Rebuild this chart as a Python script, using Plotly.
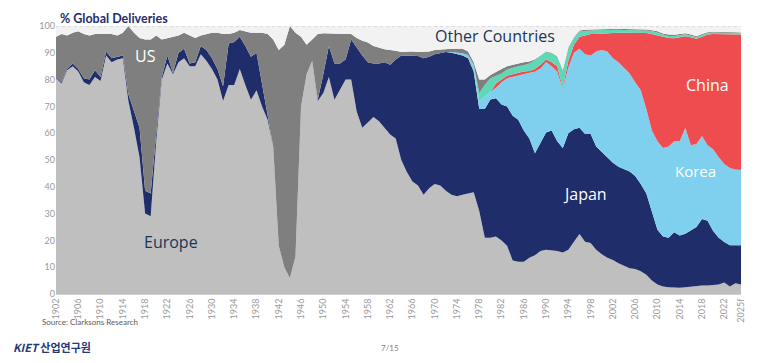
import plotly.graph_objects as go

years = list(range(1902, 2026))

europe = [80.5, 78.5, 83.5, 85, 83, 79, 78, 81, 79.5, 89,
          86.5, 87.5, 88, 72, 62, 51, 30, 29, 57, 80,
          86, 82, 86.5, 88, 85, 85, 89.5, 87, 84, 80,
          72, 78, 78, 84, 78, 72.5, 76, 70, 65, 55,
          18, 10, 6, 14, 70, 82, 87, 72, 75, 81,
          72.5, 76, 80, 80, 68, 62, 64, 66, 64.5, 62,
          59.5, 58, 50, 45.5, 42, 40.5, 37, 39.5, 41, 40.5,
          38.5, 37, 36.5, 37, 37.5, 38, 31, 21, 21, 21.5,
          20, 18, 12.5, 12, 12, 13.5, 14.5, 16, 16.5, 16.3,
          16, 15.5, 16.5, 19.5, 22.4, 19.5, 19, 16.5, 14.8, 13.5,
          12.7, 11.5, 10.5, 9.6, 9.3, 8.5, 7.2, 5, 3.5, 2.8,
          2.5, 2.4, 2.3, 2.5, 2.8, 3, 3.2, 3.2, 3.3, 3.5,
          4.3, 2.8, 4, 3.5]

japan = [0.5, 0.5, 0.5, 1, 1, 1.5, 2, 2.5, 1.5, 1.5,
         1.5, 1, 1, 2.5, 6, 11, 8.5, 8.5, 3, 1,
         3, 0.5, 3.5, 3.5, 1, 1.5, 3, 4, 4, 4,
         5.5, 15.5, 16, 12, 14.5, 16, 14, 8, 1.5, 0,
         0, 0, 0, 0, 0, 0, 0, 0.5, 7, 11.5,
         13.5, 10, 7.5, 15, 24, 27, 22.5, 20, 21.5, 24.5,
         26, 29.5, 39, 43.5, 47, 48.3, 51, 49, 48.5, 49.5,
         51.8, 53, 53, 52, 50.5, 45, 38, 48, 51.6, 51.5,
         50.7, 52, 54, 53, 49, 44.5, 38, 40.6, 43.8, 44.7,
         41, 39, 43.5, 42, 39.6, 40.2, 40.7, 38.5, 38.2, 37.8,
         36.3, 36, 36, 36.1, 34.7, 32.5, 30.3, 26, 20.5, 18.7,
         18.5, 20.6, 19.5, 20, 20.8, 22, 24.8, 24.1, 20.2, 17.5,
         15.1, 15.4, 14.2, 14.7]

korea = [0] * 71 + [0.3, 0.5, 0.8, 1.2, 2, 3, 4.8, 2.9, 4,
         8.3, 10.5, 14.5, 16.5, 21, 24.5, 30.5, 27.5, 26.3, 24,
         26, 22, 24.5, 28.5, 29.5, 29.8, 29.3, 35.5, 38, 39.2,
         39, 39, 38, 36.6, 35, 35, 31.5, 30, 33, 33,
         34, 34, 35.2, 39.5, 31.9, 31, 31, 28.2, 30.5, 30,
         29.1, 28.8, 28.3, 28.1]

china = [0] * 79 + [1.5,
         1, 1, 1, 1, 1, 0.7, 1, 1.4, 0.9, 1.5,
         2, 0.5, 2.5, 3, 4.5, 7, 8, 6.5, 6.2, 6.8,
         9.4, 11, 13, 15.2, 18.5, 21.5, 28.4, 36, 39.6, 41.5,
         40.5, 38.4, 38.8, 34.2, 40.3, 39.2, 37, 41.3, 43, 46,
         48.5, 49.9, 50.3, 50.5]

other_asia = [0] * 75 + [0.5, 3, 4.2, 5, 3,
              2.3, 2.3, 2.5, 2.5, 2.4, 2.8, 3.3, 3.5, 2.8, 3.3,
              3.5, 6.5, 4.5, 2.5, 2, 1.7, 1.3, 1.4, 1.3, 1.3,
              1.2, 1.1, 1, 1, 0.9, 0.9, 0.9, 1, 1, 0.8,
              0.8, 0.9, 0.8, 0.7, 0.6, 0.6, 0.6, 0.6, 0.6, 0.6,
              0.6, 0.6, 0.6, 0.5]

us = [15, 18, 12.5, 11.5, 14, 16.5, 16.5, 13.5, 16, 6.5,
      9, 8, 8.5, 25.5, 29.5, 33.5, 56.5, 57.5, 36.5, 14,
      6.5, 13.5, 6.5, 6, 10.5, 9, 4, 6, 9.5, 13.5,
      19.5, 3.5, 3.5, 2.5, 5.5, 9, 7.5, 19.5, 30.5, 40,
      73, 83, 94, 83.5, 26, 11, 8, 24.5, 15.3, 4.7,
      11, 11, 9.5, 2, 3.5, 5.5, 7.3, 6.5, 5.8, 4.8,
      5.5, 3.3, 1.3, 1.5, 1.5, 1.5, 2.3, 2, 1.5, 1.2,
      1.2, 1.2, 1.5, 1.7, 1.3, 1, 5, 2, 1.2, 1.5,
      1.7, 1.2, 1.1, 1, 1.1, 0.8, 0.3, 0.2, 0.2, 0.2,
      0.2, 0.2, 0.5, 0.3, 0.3, 0.4, 0.4, 0.4, 0.4, 0.4,
      0.4, 0.4, 0.4, 0.4, 0.4, 0.4, 0.4, 0.4, 0.4, 0.4,
      0.5, 0.4, 0.4, 0.4, 0.4, 0.4, 0.4, 0.3, 0.3, 0.3,
      0.3, 0.3, 0.3, 0.3]

other_countries = [4, 3, 3.5, 2.5, 2, 3, 3.5, 3, 3, 3,
                   3, 3.5, 2.5, 0, 2.5, 4.5, 5, 5, 3.5, 5,
                   4.5, 4, 3.5, 2.5, 3.5, 4.5, 3.5, 3, 2.5, 2.5,
                   3, 3, 2.5, 1.5, 2, 2.5, 2.5, 2.5, 3, 5,
                   9, 7, 0, 2.5, 4, 7, 5, 3, 2.7, 2.8,
                   3, 3, 3, 3, 4.5, 5.5, 6.2, 7.5, 8.2, 8.7,
                   9, 9.2, 9.7, 9.5, 9.5, 9.7, 9.7, 9.5, 9, 8.8,
                   8.5, 8.5, 8.5, 8.5, 9.5, 13.5, 20, 20, 18.3, 17,
                   16, 15, 14.4, 14, 13.5, 13.2, 12.4, 10.8, 9.5, 10,
                   11.3, 16.3, 8, 4.2, 1.7, 1.4, 1.3, 1.2, 1.1, 1,
                   1, 1, 1.1, 1.1, 1.2, 1.2, 1.3, 1.6, 2, 2.8,
                   3.2, 3.3, 3, 2.7, 3.2, 3.8, 3, 2.3, 2.1, 2.1,
                   2.1, 2.2, 2.3, 2.4]

tick_years = list(range(1902, 2023, 4)) + [2025]
tick_labels = [str(y) for y in range(1902, 2023, 4)] + ["2025f"]
y_ticks = list(range(0, 101, 10))

series = [
    ("Europe", europe, "#bfbfbf"),
    ("Japan", japan, "#1f2d6b"),
    ("Korea", korea, "#7fd0ee"),
    ("China", china, "#ef4c4f"),
    ("Other Asia", other_asia, "#5fd8b8"),
    ("US", us, "#7f7f7f"),
    ("Other Countries", other_countries, "#f2f2f2"),
]

fig = go.Figure()
for name, vals, col in series:
    fig.add_trace(go.Scatter(
        x=years, y=vals, name=name, stackgroup="one", mode="lines",
        line=dict(width=0, color=col), fillcolor=col,
    ))

FONT = "Lato"
LABEL_FONT = "Open Sans"
# page body has an 8px margin: figure is shrunk so it ends at the window edge
fig.update_layout(
    width=752, height=355,
    margin=dict(l=48, r=19, t=13, b=69),
    paper_bgcolor="white", plot_bgcolor="white",
    showlegend=False,
    font=dict(family=FONT, color="#8c8c8c", size=9),
    xaxis=dict(range=[1902, 2025], tickmode="array", tickvals=tick_years,
               ticktext=tick_labels, tickangle=-90, showgrid=False,
               zeroline=False, showline=True, linecolor="#d0d0d0", linewidth=1,
               ticks="", tickfont=dict(size=9, color="#999999")),
    yaxis=dict(range=[0, 100], tickmode="array", tickvals=y_ticks,
               showgrid=False, zeroline=False, showline=False, ticks="",
               tickfont=dict(size=9, color="#999999")),
)

fig.add_shape(type="line", xref="paper", yref="y", x0=0, x1=1, y0=100, y1=100,
              line=dict(color="#c8c8c8", width=1, dash="dot"), layer="above")

def label(text, x, y, size, color):
    fig.add_annotation(x=x, y=y, xref="x", yref="y", text=text, showarrow=False,
                       font=dict(family=LABEL_FONT, size=size, color=color))

label("US", 1918.0, 88.8, 16, "#ffffff")
label("Europe", 1922.7, 19.3, 16, "#1d3557")
label("Other Countries", 1980.9, 96.3, 16, "#1d3557")
label("China", 2018.9, 78.1, 16, "#ffffff")
label("Korea", 2016.9, 46, 15, "#ffffff")
label("Japan", 1997.0, 37.3, 16, "#ffffff")

fig.add_annotation(xref="paper", yref="paper", x=0.003, y=1.0, yshift=8,
                   xanchor="left", yanchor="middle",
                   text="<b>% Global Deliveries</b>", showarrow=False,
                   font=dict(family=FONT, size=12.5, color="#1f2d6b"))
fig.add_annotation(xref="paper", yref="paper", x=-0.024, y=0, yshift=-28,
                   xanchor="left", yanchor="middle",
                   text="Source: Clarksons Research", showarrow=False,
                   font=dict(family=FONT, size=8, color="#595959"))
fig.add_annotation(xref="paper", yref="paper", x=-0.066, y=0, yshift=-53,
                   xanchor="left", yanchor="middle",
                   text="<b><i>KIET</i></b> <b>산업연구원</b>", showarrow=False,
                   font=dict(family="Noto Sans CJK KR", size=11, color="#1f3a7a"))
fig.add_annotation(xref="paper", yref="paper", x=0.487, y=0, yshift=-54,
                   xanchor="center", yanchor="middle",
                   text="7/15", showarrow=False,
                   font=dict(family=FONT, size=8, color="#7f7f7f"))

fig.write_html("out.html")
